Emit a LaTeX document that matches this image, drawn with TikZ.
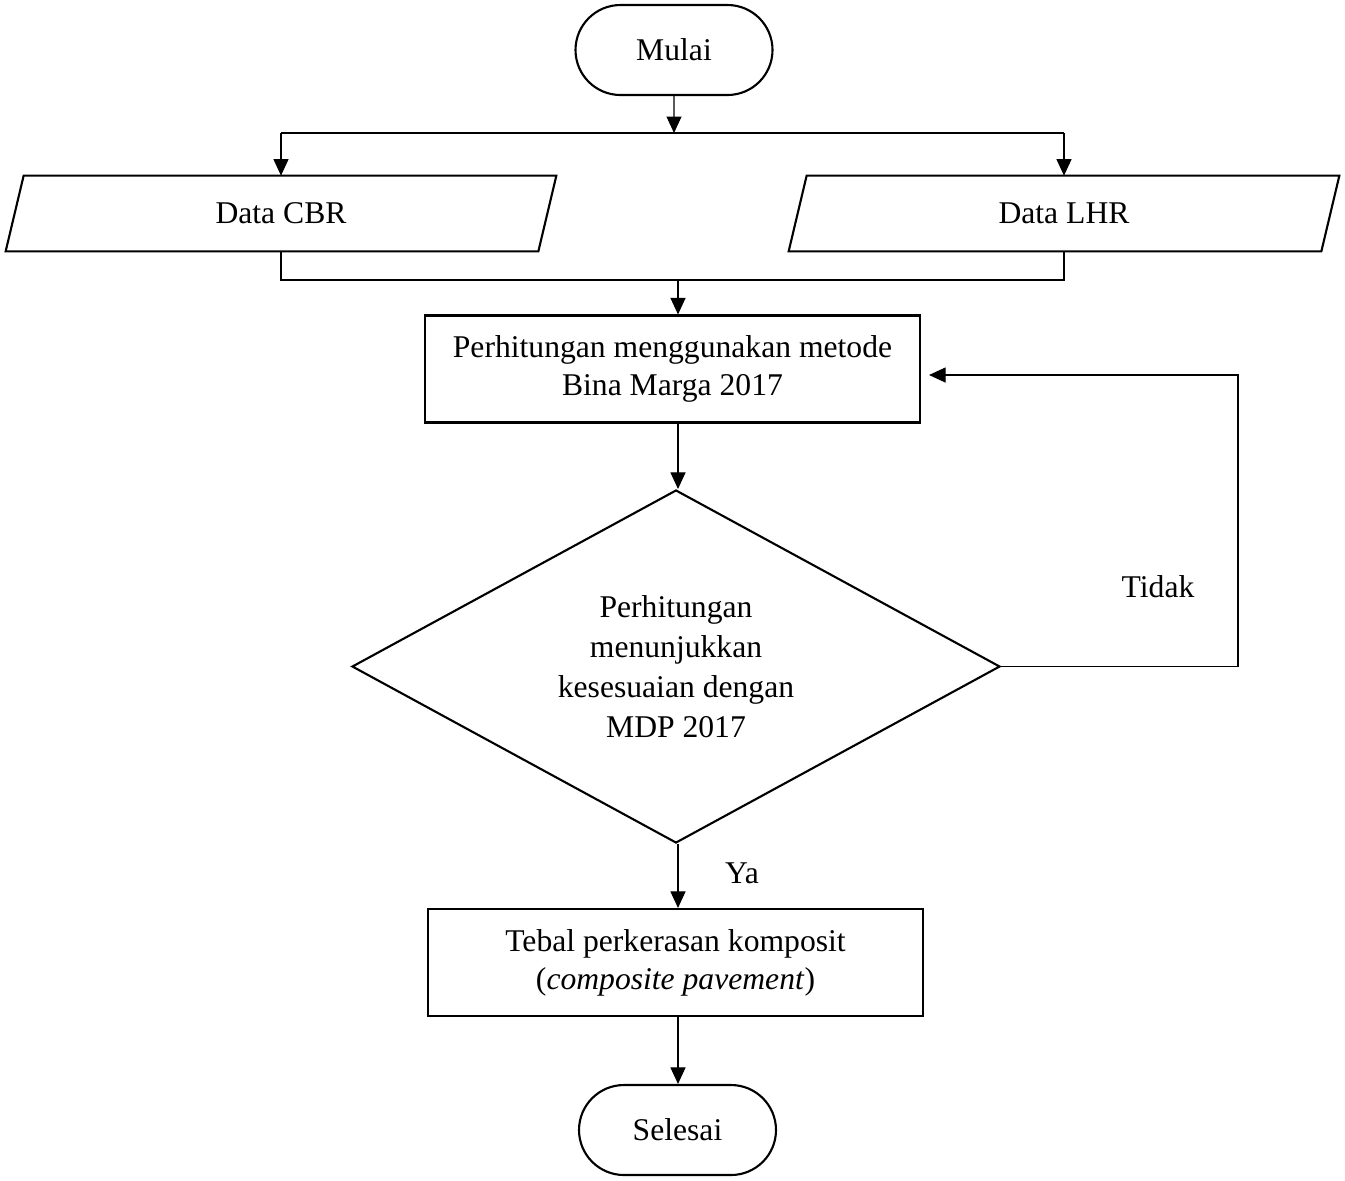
\documentclass[tikz,border=0pt]{standalone}
\usepackage{fontspec}
\setmainfont{Liberation Serif}
\usepackage{tikz}
\usetikzlibrary{positioning, shapes.misc, shapes.geometric, arrows.meta}

\begin{document}
\begin{tikzpicture}[font=\fontsize{18}{21.5}\selectfont,
    >={Triangle[length=0.33cm, width=0.3cm]},
    conn/.style={line width=0.6pt},
    terminal/.style={draw, line width=1.2pt, rounded rectangle, inner sep=0pt, minimum width=3.94cm, minimum height=1.8cm},
    inputbox/.style={inner sep=0pt, minimum width=11cm, minimum height=1.5cm},
    inputline/.style={line width=1.2pt, line join=miter},
    procbox/.style={draw, line width=1.2pt, align=center, inner sep=0pt, minimum width=9.9cm, minimum height=2.14cm},
    decision/.style={draw, line width=1.2pt, diamond, aspect=2, align=center, inner sep=0pt, minimum width=12.96cm, minimum height=7.06cm, font=\fontsize{18}{22.7}\selectfont}]
      \useasboundingbox (0,0) rectangle (26.9,-23.6);

      \node[terminal]   (mulai)   at (13.48,  -1.00)   {Mulai};
      \node[inputbox]   (cbr)     at ( 5.62,  -4.27)   {Data CBR};
      \node[inputbox]   (lhr)     at (21.28,  -4.27)   {Data LHR};
      \node[procbox]    (calc)    at (13.45,  -7.38)   {Perhitungan menggunakan metode \\ Bina Marga 2017};
      \node[decision]   (cek)     at (13.52, -13.33)   {Perhitungan \\ menunjukkan \\ kesesuaian dengan \\ MDP 2017};
      \node[procbox]    (tebal)   at (13.51, -19.25)   {Tebal perkerasan komposit \\ (\textit{composite pavement})};
      \node[terminal]   (selesai) at (13.55, -22.60)   {Selesai};

      % parallelogram outlines of the input boxes
      \draw[inputline] (cbr.south west) -- ([xshift=0.36cm]cbr.north west) -- (cbr.north east) -- ([xshift=-0.36cm]cbr.south east) -- cycle;
      \draw[inputline] (lhr.south west) -- ([xshift=0.36cm]lhr.north west) -- (lhr.north east) -- ([xshift=-0.36cm]lhr.south east) -- cycle;

      \coordinate (split) at (13.48, -2.66);
      \coordinate (join)  at (13.56, -5.60);
      \coordinate (turn)  at (24.76, -7.50);

      \node (tidak) at (23.16, -11.74) {Tidak};
      \node (ya)    at (14.84, -17.46) {Ya};

      \draw[conn, ->] (mulai) -- (split);
      \draw[conn]     (cbr.north |- split) -- (lhr.north |- split);
      \draw[conn, ->] (cbr.north |- split) -- (cbr.north);
      \draw[conn, ->] (lhr.north |- split) -- (lhr.north);

      \draw[conn]     (cbr.south) -- (cbr.south |- join) -- (lhr.south |- join) -- (lhr.south);
      \draw[conn, ->] (join) -- (join |- calc.north);

      \draw[conn, ->] (calc.south -| join) -- (join |- cek.north);
      \draw[conn, ->] (cek.east) -| (turn) -- ([xshift=0.16cm]calc.east |- turn);

      \draw[conn, ->] (cek.south -| join) -- (join |- tebal.north);
      \draw[conn, ->] (tebal.south -| join) -- (join |- selesai.north);
    \end{tikzpicture}
\end{document}
